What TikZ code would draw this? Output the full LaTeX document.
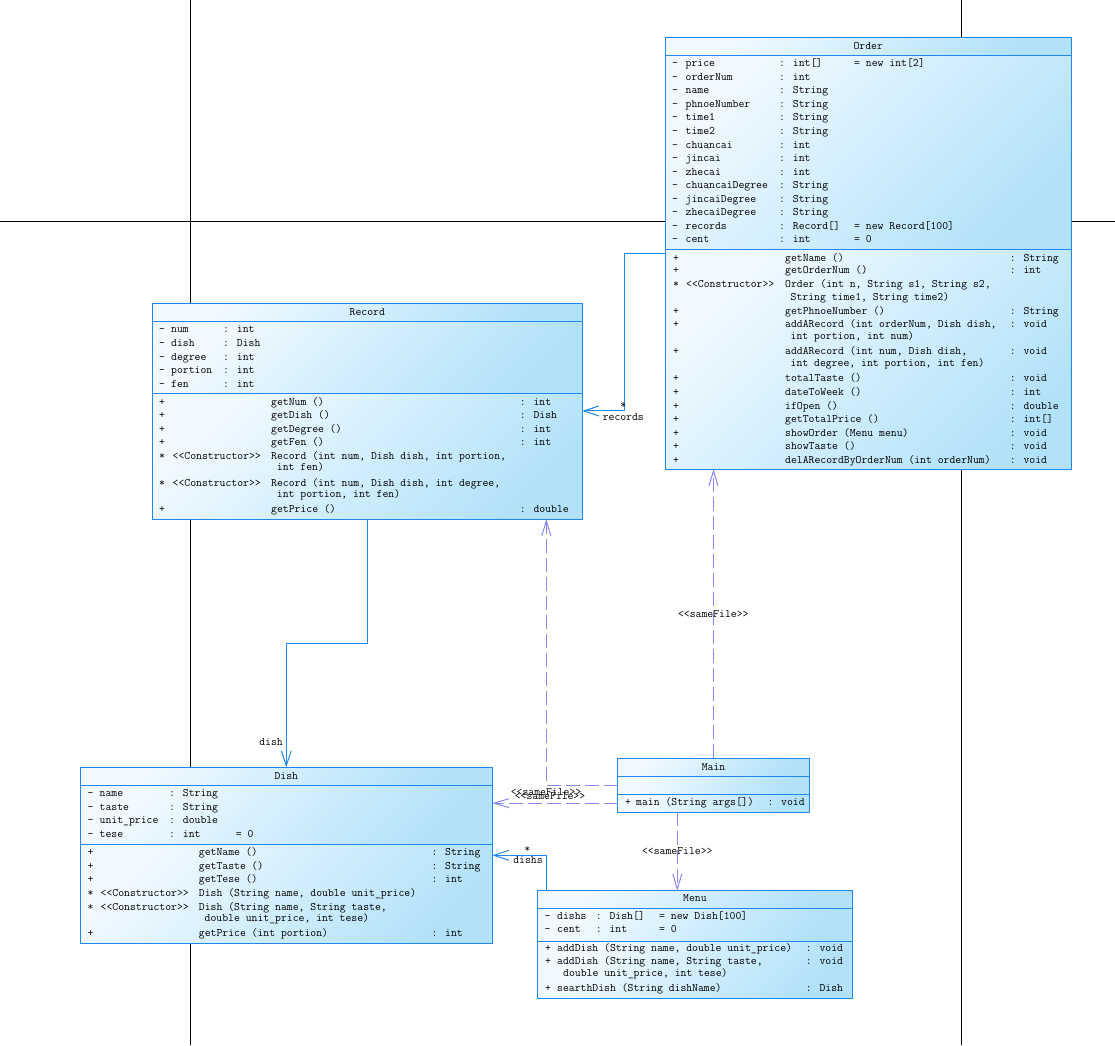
\documentclass[tikz,border=0pt]{standalone}
\usetikzlibrary{arrows.meta}

\definecolor{umlline}{RGB}{30,136,240}
\definecolor{umllight}{RGB}{242,250,255}
\definecolor{umldark}{RGB}{178,226,250}
\definecolor{deparrow}{RGB}{136,136,240}
\newcommand{\umlfont}{\ttfamily\fontsize{11.4}{13}\selectfont}

\tikzset{
  compart/.style={draw=umlline, line width=1pt, top color=umllight, bottom color=umldark,
    shading angle=45, anchor=north west, inner sep=0pt, outer sep=0pt},
  txt/.style={anchor=west, inner sep=0pt, text height=7pt, text depth=0pt, font=\umlfont},
  ttl/.style={txt, anchor=center},
  assoc/.style={draw=umlline, line width=1pt, -{Straight Barb[length=15pt,width=10pt]}},
  samefile/.style={draw=deparrow, line width=1pt, dash pattern=on 14pt off 5pt,
    -{Straight Barb[length=15pt,width=9pt]}},
  pageline/.style={black, line width=1pt}
}

\begin{document}
\begin{tikzpicture}[x=1pt, y=-1pt]
    \useasboundingbox (0,0) rectangle (1115,1045);

    % Page borders behind the diagram
    \draw[pageline] (190.5,0) -- (190.5,1045);
    \draw[pageline] (961.5,0) -- (961.5,1045);
    \draw[pageline] (0,221) -- (1115,221);

    % Order class
    \node[compart, minimum width=405.7, minimum height=17.7] (orderT) at (665.3,37.3) {};
    \node[compart, minimum width=405.7, minimum height=194.3] (orderA) at (orderT.south west) {};
    \node[compart, minimum width=405.7, minimum height=219.7] (orderM) at (orderA.south west) {};
    \node[ttl] (orderName) at (868.2,45.5) {Order};
    \foreach \n/\t [count=\i from 0] in {price/{int[]}, orderNum/int, name/String,
        phnoeNumber/String, time1/String, time2/String, chuancai/int, jincai/int, zhecai/int,
        chuancaiDegree/String, jincaiDegree/String, zhecaiDegree/String, records/{Record[]}, cent/int}
    {
        \node[txt] (ordAs\i) at (672,63.3+13.54*\i) {-};
        \node[txt] (ordAn\i) at (685.5,63.3+13.54*\i) {\n};
        \node[txt] (ordAt\i) at (779,63.3+13.54*\i) {: \t};
    }
    \node[txt] (ordAv0) at (854,63.3) {= new int[2]};
    \node[txt] (ordAv12) at (854,63.3+13.54*12) {= new Record[100]};
    \node[txt] (ordAv13) at (854,63.3+13.54*13) {= 0};
    \foreach \y/\s/\m/\t [count=\i] in {257.7/+/getName ()/String, 270.3/+/getOrderNum ()/int,
        311/+/getPhnoeNumber ()/String, 324.3/+/{addARecord (int orderNum, Dish dish,}/void,
        351.3/+/{addARecord (int num, Dish dish,}/void, 378.3/+/totalTaste ()/void,
        392/+/dateToWeek ()/int, 406.3/+/ifOpen ()/double, 419.3/+/getTotalPrice ()/{int[]},
        433.3/+/showOrder (Menu menu)/void, 446.3/+/showTaste ()/void,
        460.3/+/delARecordByOrderNum (int orderNum)/void}
    {
        \node[txt] (ordMs\i) at (673,\y) {\s};
        \node[txt] (ordMn\i) at (785,\y) {\m};
        \node[txt] (ordMt\i) at (1009.7,\y) {: \t};
    }
    \node[txt] (ordCs) at (673,284.3) {*};
    \node[txt] (ordCk) at (686,284.3) {<{}<Constructor>{}>};
    \node[txt] (ordCn) at (785,284.3) {Order (int n, String s1, String s2,};
    \foreach \y/\c [count=\i] in {296.7/{String time1, String time2)},
        336/{int portion, int num)}, 363.3/{int degree, int portion, int fen)}}
        \node[txt] (ordMc\i) at (790.5,\y) {\c};

    % Record class
    \node[compart, minimum width=430, minimum height=17.7] (recordT) at (152.3,303.3) {};
    \node[compart, minimum width=430, minimum height=72.3] (recordA) at (recordT.south west) {};
    \node[compart, minimum width=430, minimum height=125.7] (recordM) at (recordA.south west) {};
    \node[ttl] (recordName) at (367.3,311.5) {Record};
    \foreach \n/\t [count=\i from 0] in {num/int, dish/Dish, degree/int, portion/int, fen/int}
    {
        \node[txt] (recAs\i) at (159,329.3+13.6*\i) {-};
        \node[txt] (recAn\i) at (171,329.3+13.6*\i) {\n};
        \node[txt] (recAt\i) at (223,329.3+13.6*\i) {: \t};
    }
    \foreach \y/\m/\t [count=\i] in {401.7/getNum ()/int, 415.3/getDish ()/Dish,
        428.7/getDegree ()/int, 442.3/getFen ()/int, 509.3/getPrice ()/double}
    {
        \node[txt] (recMs\i) at (159,\y) {+};
        \node[txt] (recMn\i) at (271,\y) {\m};
        \node[txt] (recMt\i) at (519.7,\y) {: \t};
    }
    \foreach \y/\m/\c [count=\i] in {455.7/{Record (int num, Dish dish, int portion,}/{int fen)},
        482.7/{Record (int num, Dish dish, int degree,}/{int portion, int fen)}}
    {
        \node[txt] (recCs\i) at (159,\y) {*};
        \node[txt] (recCk\i) at (172.5,\y) {<{}<Constructor>{}>};
        \node[txt] (recCn\i) at (271,\y) {\m};
        \node[txt] (recCc\i) at (276.7,\y+11.6) {\c};
    }

    % Dish class
    \node[compart, minimum width=412, minimum height=18] (dishT) at (80.3,767.3) {};
    \node[compart, minimum width=412, minimum height=59] (dishA) at (dishT.south west) {};
    \node[compart, minimum width=412, minimum height=98.7] (dishM) at (dishA.south west) {};
    \node[ttl] (dishName) at (286.3,775.5) {Dish};
    \foreach \n/\t [count=\i from 0] in {name/String, taste/String, unit\_price/double, tese/int}
    {
        \node[txt] (dishAs\i) at (87.5,793.3+13.57*\i) {-};
        \node[txt] (dishAn\i) at (99.5,793.3+13.57*\i) {\n};
        \node[txt] (dishAt\i) at (169,793.3+13.57*\i) {: \t};
    }
    \node[txt] (dishAv3) at (235.7,834) {= 0};
    \foreach \y/\m/\t [count=\i] in {852.3/getName ()/String, 865.7/getTaste ()/String,
        879.3/getTese ()/int, 933.3/getPrice (int portion)/int}
    {
        \node[txt] (dishMs\i) at (87.5,\y) {+};
        \node[txt] (dishMn\i) at (198.7,\y) {\m};
        \node[txt] (dishMt\i) at (431.3,\y) {: \t};
    }
    \foreach \y/\m [count=\i] in {893.3/{Dish (String name, double unit\_price)},
        906.7/{Dish (String name, String taste,}}
    {
        \node[txt] (dishCs\i) at (87.5,\y) {*};
        \node[txt] (dishCk\i) at (100.5,\y) {<{}<Constructor>{}>};
        \node[txt] (dishCn\i) at (198.7,\y) {\m};
    }
    \node[txt] (dishCc2) at (204.5,918.3) {double unit\_price, int tese)};

    % Main class
    \node[compart, minimum width=191.6, minimum height=18] (mainT) at (617.7,758.3) {};
    \node[compart, minimum width=191.6, minimum height=18] (mainA) at (mainT.south west) {};
    \node[compart, minimum width=191.6, minimum height=17.7] (mainM) at (mainA.south west) {};
    \node[ttl] (mainName) at (713.5,766.5) {Main};
    \node[txt] (mainMs) at (625,802.3) {+};
    \node[txt] (mainMn) at (636,802.3) {main (String args[])};
    \node[txt] (mainMt) at (767.3,802.3) {: void};

    % Menu class
    \node[compart, minimum width=314.3, minimum height=17.6] (menuT) at (537.7,890.7) {};
    \node[compart, minimum width=314.3, minimum height=32.7] (menuA) at (menuT.south west) {};
    \node[compart, minimum width=314.3, minimum height=57.3] (menuM) at (menuA.south west) {};
    \node[ttl] (menuName) at (694.9,898.2) {Menu};
    \foreach \y/\n/\t/\v [count=\i] in {915.7/dishs/{Dish[]}/{= new Dish[100]}, 929.3/cent/int/{= 0}}
    {
        \node[txt] (menuAs\i) at (544.5,\y) {-};
        \node[txt] (menuAn\i) at (557,\y) {\n};
        \node[txt] (menuAt\i) at (595.7,\y) {: \t};
        \node[txt] (menuAv\i) at (659,\y) {\v};
    }
    \foreach \y/\m/\t [count=\i] in {948.3/{addDish (String name, double unit\_price)}/void,
        961/{addDish (String name, String taste,}/void, 988/searthDish (String dishName)/Dish}
    {
        \node[txt] (menuMs\i) at (545,\y) {+};
        \node[txt] (menuMn\i) at (557,\y) {\m};
        \node[txt] (menuMt\i) at (805.7,\y) {: \t};
    }
    \node[txt] (menuMc2) at (563,972.7) {double unit\_price, int tese)};

    % Associations
    \draw[assoc] ([yshift=-4pt]orderM.north west) -- ++(-41,0) |- ([yshift=45.2pt]recordM.east);
    \node[ttl] (recMult) at (623.3,405.2) {*};
    \node[ttl] (recRole) at (623.3,416.5) {records};

    \draw[assoc] (recordM.south) -- ++(0,124.3) -| (dishT.north);
    \node[ttl] (dishRole) at (271,742.2) {dish};

    \coordinate (menuTop) at ([xshift=-148.5pt]menuT.north);
    \draw[assoc] (menuTop) |- ([yshift=38.35pt]dishM.east);
    \node[ttl] (dishsMult) at (527.3,848.8) {*};
    \node[ttl] (dishsRole) at (528,860.2) {dishs};

    % sameFile dependencies from Main
    \draw[samefile] (mainT.north) -- (mainT.north |- orderM.south);
    \node[ttl] (sfOrder) at (713.3,613.8) {<{}<sameFile>{}>};

    \coordinate (mainBot) at ([xshift=-36.2pt]mainM.south);
    \draw[samefile] (mainBot) -- (mainBot |- menuT.north);
    \node[ttl] (sfMenu) at (677.3,850.5) {<{}<sameFile>{}>};

    \coordinate (recordBot) at ([xshift=179pt]recordM.south);
    \draw[samefile] (mainA.west) -| (recordBot);
    \node[ttl] (sfRecord) at (546,792) {<{}<sameFile>{}>};

    \draw[samefile] (mainM.west) -- (mainM.west -| dishA.east);
    \node[ttl] (sfDish) at (550,795.5) {<{}<sameFile>{}>};
\end{tikzpicture}
\end{document}
